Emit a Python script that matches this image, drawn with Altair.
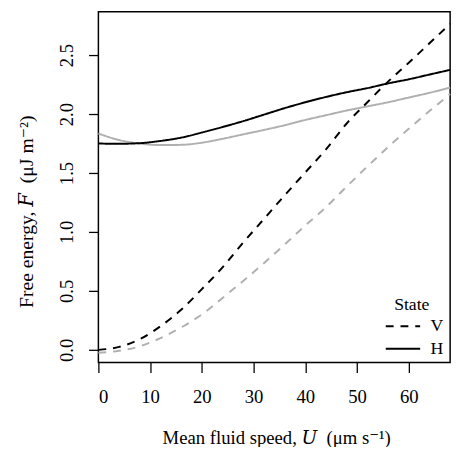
import altair as alt
import pandas as pd

# Mean fluid speed U (µm/s)
U = [0, 4, 8, 12, 16, 20, 24, 28, 32, 36, 40, 44, 48, 52, 56, 60, 64, 68]

# Free energy F (µJ m^-2)
V_dark = [0.0, 0.025, 0.09, 0.20, 0.34, 0.515, 0.70, 0.91, 1.11, 1.31, 1.505, 1.70, 1.92, 2.10, 2.275, 2.435, 2.60, 2.765]
V_light = [-0.025, -0.008, 0.03, 0.10, 0.19, 0.30, 0.44, 0.585, 0.735, 0.893, 1.055, 1.21, 1.385, 1.555, 1.72, 1.875, 2.025, 2.17]
H_dark = [1.75, 1.748, 1.753, 1.772, 1.80, 1.843, 1.89, 1.94, 1.995, 2.05, 2.10, 2.145, 2.185, 2.22, 2.26, 2.295, 2.335, 2.375]
H_light = [1.835, 1.78, 1.75, 1.737, 1.739, 1.757, 1.79, 1.828, 1.865, 1.905, 1.95, 1.99, 2.03, 2.065, 2.10, 2.14, 2.18, 2.225]

states = ["V", "H"]
y_ticks = [0.0, 0.5, 1.0, 1.5, 2.0, 2.5]
x_ticks = [0, 10, 20, 30, 40, 50, 60]

rows = []
for name, state, shade, vals in [
    ("V_light", "V", "light", V_light),
    ("H_light", "H", "light", H_light),
    ("V_dark", "V", "dark", V_dark),
    ("H_dark", "H", "dark", H_dark),
]:
    for u, f in zip(U, vals):
        rows.append({"U": u, "F": f, "State": state, "shade": shade, "series": name})
df = pd.DataFrame(rows)

FONT = "Liberation Serif, DejaVu Serif, serif"
SP = "\u00a0\u00a0"

chart = alt.Chart(df).mark_line(strokeWidth=2, interpolate="monotone").encode(
    x=alt.X("U:Q",
            scale=alt.Scale(domain=[0, 68], nice=False, zero=False),
            axis=alt.Axis(values=x_ticks, format="d",
                          title="Mean fluid speed, 𝑈" + SP + "(μm s⁻¹)",
                          titleX=181, titleY=76, titleBaseline="middle",
                          titleAlign="center", titleFontSize=19,
                          labelPadding=16)),
    y=alt.Y("F:Q",
            scale=alt.Scale(domain=[-0.108, 2.867], nice=False, zero=False),
            axis=alt.Axis(values=y_ticks, format=".1f", labelAngle=-90,
                          labelAlign="center", labelBaseline="bottom",
                          labelPadding=12,
                          title="Free energy, 𝐹" + SP + "(μJ m⁻²)",
                          titleAngle=-90, titleX=-73, titleY=203,
                          titleFontSize=20,
                          titleAlign="center", titleBaseline="middle")),
    color=alt.Color("shade:N",
                    scale=alt.Scale(domain=["dark", "light"], range=["black", "#b0b0b0"]),
                    legend=None),
    strokeDash=alt.StrokeDash("State:N",
                              scale=alt.Scale(domain=states, range=[[8, 7], [1, 0]]),
                              legend=alt.Legend(title="State", orient="none",
                                                legendX=287, legendY=289,
                                                padding=0,
                                                symbolType="M-1,0H9", symbolSize=49,
                                                symbolStrokeColor="black",
                                                symbolStrokeWidth=2,
                                                titleAnchor="middle",
                                                titlePadding=4,
                                                rowPadding=5,
                                                labelOffset=33)),
    detail="series:N",
).properties(
    width=358, height=357,
    autosize="none",
    padding={"left": 92, "top": 0, "right": 7, "bottom": 82},
).configure_view(
    stroke="black", strokeWidth=1.5
).configure_axis(
    domain=False, grid=False,
    tickColor="black", tickWidth=1.3, tickSize=10,
    labelFont=FONT, labelFontSize=19, labelColor="black",
    titleFont=FONT, titleColor="black", titleFontWeight="normal",
).configure_legend(
    titleFont=FONT, titleFontSize=18, titleFontWeight="normal", titleColor="black",
    labelFont=FONT, labelFontSize=18, labelColor="black",
)

chart.save("out.html", embed_options={"renderer": "svg", "actions": False})
